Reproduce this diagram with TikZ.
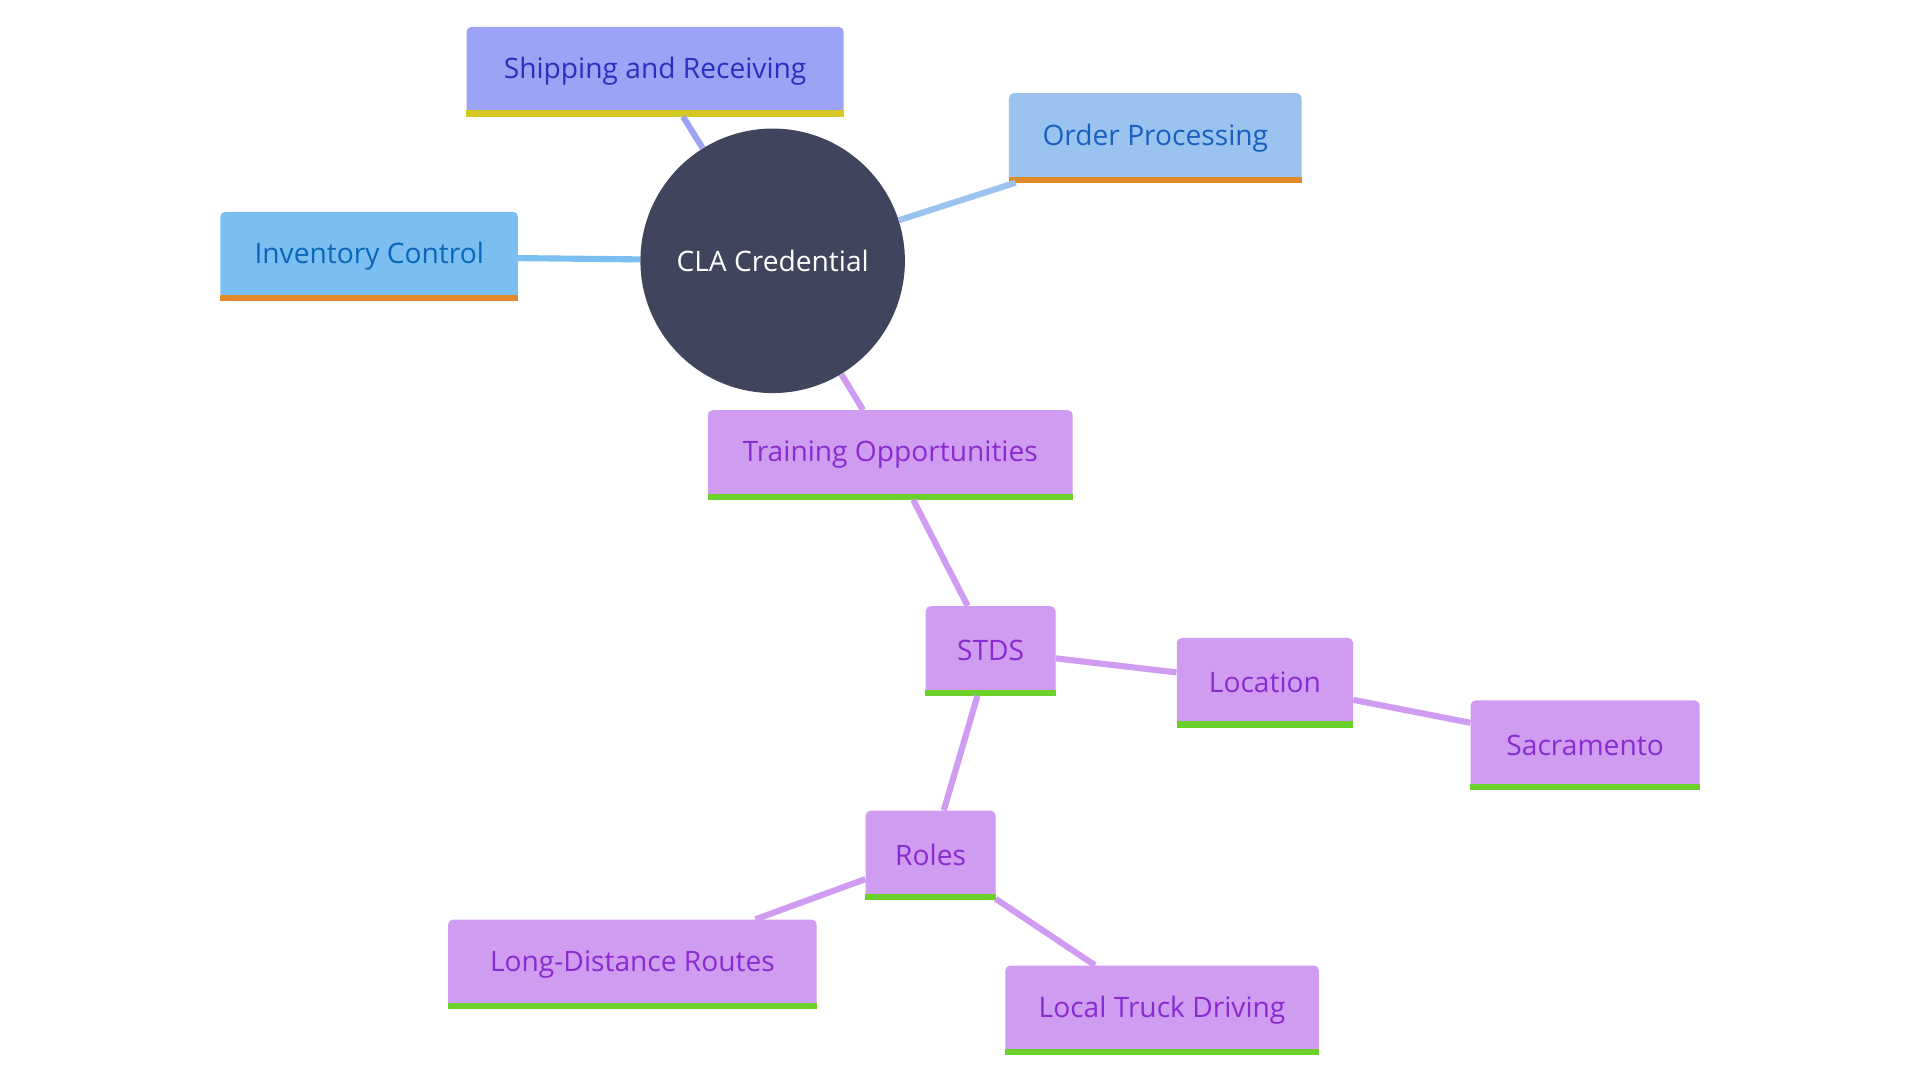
\documentclass[tikz,border=0pt]{standalone}
\usepackage{fontspec}
\setmainfont{Open Sans}
\begin{document}
\begin{tikzpicture}[x=1pt,y=-1pt,
  box/.style={rounded corners=4pt,minimum height=73pt,inner sep=0pt,font=\fontsize{23}{26}\selectfont},
  pur/.style={box,fill=P,text=PT},
  edge/.style={line width=5pt},
]
\definecolor{P}{HTML}{CF9CF2}\definecolor{PT}{HTML}{8A2BD0}
\definecolor{G}{HTML}{6CD02A}\definecolor{O}{HTML}{E08A2A}\definecolor{Y}{HTML}{D4C825}
\definecolor{SB}{HTML}{9CA3F5}\definecolor{OB}{HTML}{9AC3F0}\definecolor{IB}{HTML}{7BBFF2}
\definecolor{C}{HTML}{40445C}
\fill[white] (0,0) rectangle (1568,882);
\useasboundingbox (0,0) rectangle (1568,882);
\node[box,fill=SB,text={rgb,255:red,43;green,47;blue,192},minimum width=308pt] (ship) at (535,58.5) {Shipping and Receiving};
\node[box,fill=OB,text={rgb,255:red,26;green,95;blue,192},minimum width=239pt] (ord) at (943.5,112.5) {Order Processing};
\node[box,fill=IB,text={rgb,255:red,10;green,102;blue,184},minimum width=243pt] (inv) at (301.5,209.5) {Inventory Control};
\node[pur,minimum width=298pt] (tr) at (727,371.5) {Training Opportunities};
\node[pur,minimum width=106pt] (stds) at (809,531.5) {STDS};
\node[pur,minimum width=144pt] (loc) at (1033,557.5) {Location};
\node[pur,minimum width=187pt] (sac) at (1294.5,608.5) {Sacramento};
\node[pur,minimum width=106pt] (rol) at (760,698.5) {Roles};
\node[pur,minimum width=301pt] (lon) at (516.5,787.5) {Long-Distance Routes};
\node[pur,minimum width=256pt] (loc2) at (949,825) {Local Truck Driving};
\begin{scope}[on background layer/.try]\end{scope}
\node[circle,fill=C,text=white,minimum size=216pt,inner sep=0pt,font=\fontsize{23}{26}\selectfont] (cla) at (631,213) {CLA Credential};
% bars
\foreach \n/\c in {ship/Y,ord/O,inv/O,tr/G,stds/G,loc/G,sac/G,rol/G,lon/G,loc2/G}{
  \fill[\c] ([yshift=5pt]\n.south west) rectangle (\n.south east);}
% edges (drawn to borders)
\draw[edge,SB] (cla) -- (ship);
\draw[edge,OB] (cla) -- (ord);
\draw[edge,IB] (cla) -- (inv);
\draw[edge,P] (cla) -- (tr);
\draw[edge,P] (tr) -- (stds);
\draw[edge,P] (stds) -- (loc);
\draw[edge,P] (loc) -- (sac);
\draw[edge,P] (stds) -- (rol);
\draw[edge,P] (rol) -- (lon);
\draw[edge,P] (rol) -- (loc2);
\end{tikzpicture}
\end{document}
